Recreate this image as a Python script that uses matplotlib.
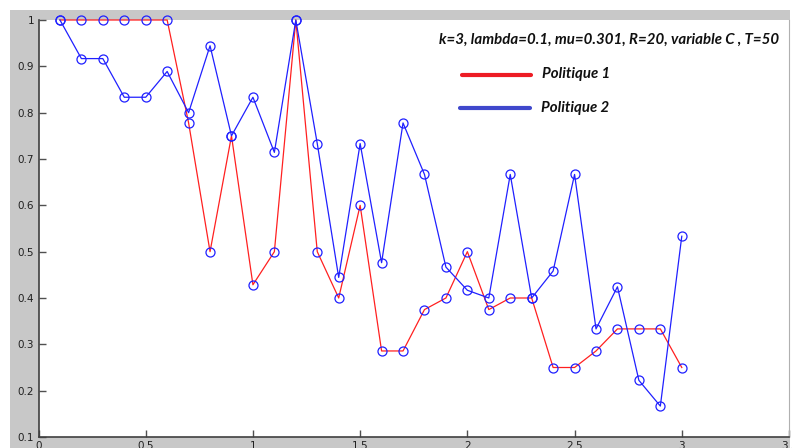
import numpy as np
import matplotlib
matplotlib.use('Agg')
from matplotlib import pyplot as plt
from matplotlib.lines import Line2D
from matplotlib.patches import Rectangle

# donnees
C = [0.1, 0.2, 0.3, 0.4, 0.5, 0.6, 0.7, 0.8, 0.9, 1.0,
     1.1, 1.2, 1.3, 1.4, 1.5, 1.6, 1.7, 1.8, 1.9, 2.0,
     2.1, 2.2, 2.3, 2.4, 2.5, 2.6, 2.7, 2.8, 2.9, 3.0]
politique_1 = [1, 1, 1, 1, 1, 1, 0.778, 0.5, 0.75, 0.4286,
               0.5, 1, 0.5, 0.4, 0.6, 0.2857, 0.2857, 0.375, 0.4, 0.5,
               0.375, 0.4, 0.4, 0.25, 0.25, 0.2857, 0.3333, 0.3333, 0.3333, 0.25]
politique_2 = [1, 0.9167, 0.9167, 0.8333, 0.8333, 0.8889, 0.8, 0.9444, 0.75, 0.8333,
               0.7143, 1, 0.7333, 0.4444, 0.7333, 0.4762, 0.7778, 0.6667, 0.4667, 0.4167,
               0.4, 0.6667, 0.4, 0.4583, 0.6667, 0.3333, 0.4242, 0.2222, 0.1667, 0.5333]
titre = 'k=3, lambda=0.1, mu=0.301, R=20, variable C , T=50'
noms = ['Politique 1', 'Politique 2']

W, H = 792, 448
fig = plt.figure(figsize=(W / 100, H / 100), dpi=100, facecolor='white')

def fx(x):
    return x / W

def fy(y):
    return 1 - y / H

# fond gris facon matlab
fig.patches.append(Rectangle((fx(10), 0), fx(790) - fx(10), fy(10),
                             transform=fig.transFigure, facecolor='#c8c8c8',
                             edgecolor='none', zorder=-5))

ax = fig.add_axes([fx(38.5), fy(437), fx(789) - fx(38.5), fy(20) - fy(437)])
ax.set_zorder(1)
ax.set_facecolor('white')

ax.plot(C, politique_1, color='#ff2020', lw=0.9, clip_on=False)
ax.plot(C, politique_2, color='#2020ff', lw=0.9, clip_on=False)
ax.plot(C, politique_1, 'o', mfc='none', mec='#2020ff', ms=6.5, mew=0.9, clip_on=False)
ax.plot(C, politique_2, 'o', mfc='none', mec='#2020ff', ms=6.5, mew=0.9, clip_on=False)

ax.set_xlim(0, 3.5)
ax.set_ylim(0.1, 1)
ax.set_xticks(np.arange(0, 3.51, 0.5))
ax.set_xticklabels(['0', '0.5', '1', '1.5', '2', '2.5', '3', '3.5'])
ax.set_yticks(np.arange(0.1, 1.01, 0.1))
ax.set_yticklabels(['0.1', '0.2', '0.3', '0.4', '0.5', '0.6', '0.7', '0.8', '0.9', '1'])
ax.tick_params(direction='in', length=5, width=1, color='#505050',
               labelsize=7.5, labelcolor='#202020', pad=3)
for s in ['left', 'bottom']:
    ax.spines[s].set_color('#404040')
    ax.spines[s].set_linewidth(1.2)
ax.spines['top'].set_visible(False)
ax.spines['right'].set_color('#b0b0b0')
ax.spines['right'].set_linewidth(0.8)

# legende dessinee a la main
police = dict(family=['Lato', 'DejaVu Sans'], weight='bold', style='italic', size=10.8)
fig.text(fx(439), fy(40), titre, ha='left', va='center', color='#101010', zorder=5, **police)
fig.lines.append(Line2D([fx(462), fx(531)], [fy(75), fy(75)], transform=fig.transFigure,
                        color='#ed1c24', lw=3, solid_capstyle='round', zorder=5))
fig.lines.append(Line2D([fx(460), fx(530)], [fy(108), fy(108)], transform=fig.transFigure,
                        color='#3f48cc', lw=3, solid_capstyle='round', zorder=5))
fig.text(fx(542), fy(74), noms[0], ha='left', va='center', color='#101010', zorder=5, **police)
fig.text(fx(541), fy(108), noms[1], ha='left', va='center', color='#101010', zorder=5, **police)

fig.savefig('out.png', dpi=100)
